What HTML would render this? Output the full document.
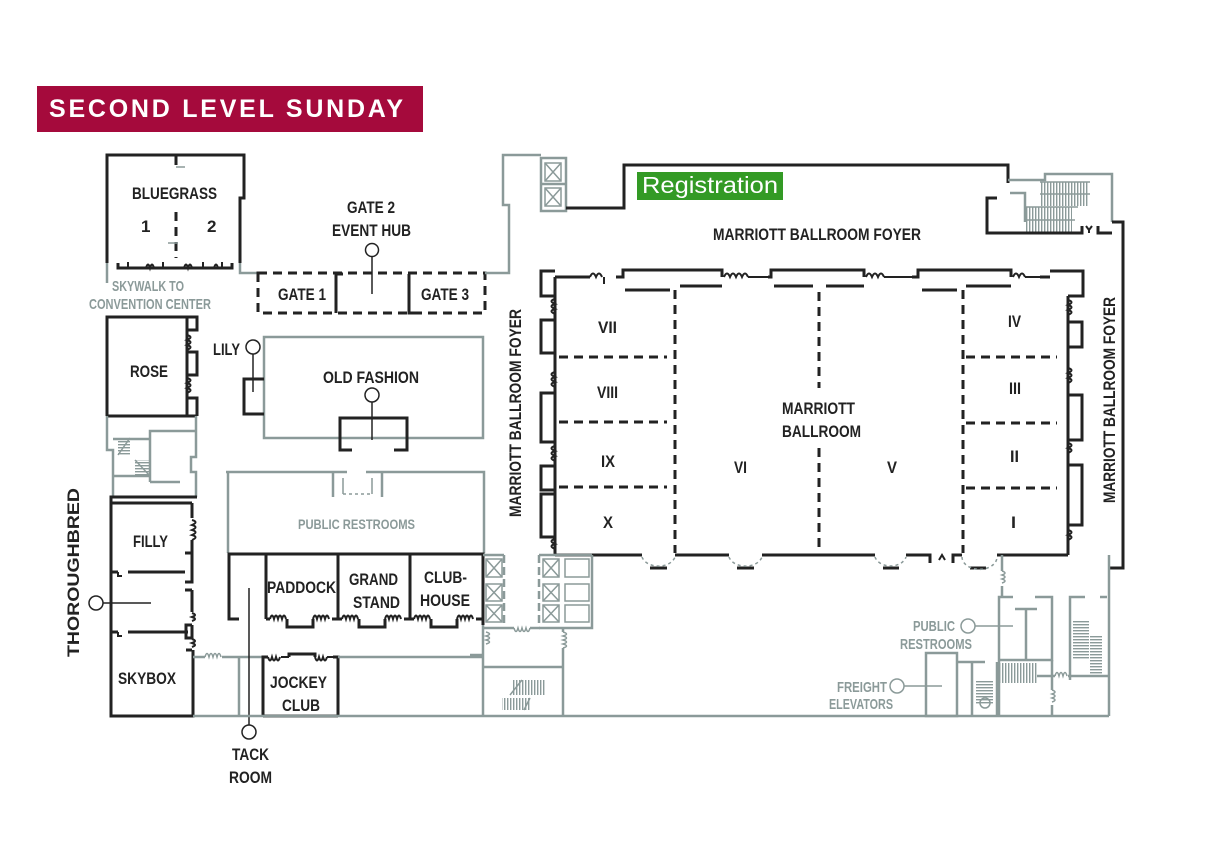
<!DOCTYPE html>
<html><head><meta charset="utf-8"><style>
html,body{margin:0;padding:0;background:#fff;}
svg{display:block;}
.k{fill:none;stroke:#222;stroke-width:3;}
.k2{fill:none;stroke:#222;stroke-width:2;}
.g{fill:none;stroke:#8b9a99;stroke-width:2.5;}
.g1{fill:none;stroke:#8b9a99;stroke-width:1.5;}
.d{fill:none;stroke:#222;stroke-width:3;stroke-dasharray:9 6;}
.thin{fill:none;stroke:#222;stroke-width:1.5;}
.t{font-family:"Liberation Sans Narrow","Liberation Sans",sans-serif;font-weight:bold;font-size:17px;fill:#222;}
.tg{font-family:"Liberation Sans Narrow","Liberation Sans",sans-serif;font-weight:bold;font-size:15px;fill:#8b9a99;}
</style></head><body>
<svg width="1215" height="848" viewBox="0 0 1215 848" xmlns="http://www.w3.org/2000/svg">
<defs>
<pattern id="hv" width="3" height="3" patternUnits="userSpaceOnUse"><rect width="1.4" height="3" fill="#8b9a99"/></pattern>
<pattern id="hh" width="3" height="3" patternUnits="userSpaceOnUse"><rect width="3" height="1.4" fill="#8b9a99"/></pattern>
</defs>
<rect width="1215" height="848" fill="#fff"/>

<!-- Title -->
<rect x="37" y="86" width="386" height="46" fill="#a50a3c"/>
<text x="49" y="117" font-family="Liberation Sans, sans-serif" font-weight="bold" font-size="25" fill="#fff" textLength="354" lengthAdjust="spacing">SECOND LEVEL SUNDAY</text>

<!-- Bluegrass -->
<path class="k" d="M107,263 V155 H244 V198 H240 V263"/>
<path class="k" d="M118,263 V268 H232 V263"/>
<path class="k2" d="M128,268 V262 M146,268 q2,-7 4,0 q2,-7 4,0 M163,268 V262 M184,268 q2,-7 4,0 q2,-7 4,0 M203,268 V262 M214,268 q2,-7 4,0 M222,268 V262"/>
<path class="d" d="M176,212 V258" stroke-dasharray="8 6"/>
<path class="k" d="M176,155 V165"/>
<path class="g1" d="M176,167 H185 M168,243 H178"/>
<text class="t" x="132" y="199" textLength="85" lengthAdjust="spacingAndGlyphs">BLUEGRASS</text>
<text class="t" x="141" y="232">1</text>
<text class="t" x="207" y="232">2</text>
<path class="g" d="M107,263 V283 M240,263 V273 H258"/>
<text class="tg" x="112" y="291" textLength="72" lengthAdjust="spacingAndGlyphs">SKYWALK TO</text>
<text class="tg" x="89" y="309" textLength="122" lengthAdjust="spacingAndGlyphs">CONVENTION CENTER</text>

<!-- Gates -->
<rect class="d" x="258" y="273" width="227" height="40"/>
<path class="k" d="M336,313 V274 H343 M409,274 V313 H416"/>
<line class="thin" x1="372" y1="257" x2="372" y2="294"/>
<circle cx="372" cy="250" r="6.5" fill="#fff" stroke="#222" stroke-width="1.5"/>
<text class="t" x="347" y="213" textLength="48" lengthAdjust="spacingAndGlyphs">GATE 2</text>
<text class="t" x="332" y="236" textLength="79" lengthAdjust="spacingAndGlyphs">EVENT HUB</text>
<text class="t" x="278" y="300" textLength="48" lengthAdjust="spacingAndGlyphs">GATE 1</text>
<text class="t" x="421" y="300" textLength="48" lengthAdjust="spacingAndGlyphs">GATE 3</text>

<!-- Foyer top outline -->
<path class="g" d="M485,273 H509 V205 H503 V155 H541"/>
<rect class="g" x="541" y="158" width="25" height="53"/>
<path class="g" d="M541,184 H566"/>
<rect class="g1" x="545" y="163" width="16" height="18"/>
<path class="g1" d="M545,163 L561,181 M561,163 L545,181"/>
<rect class="g1" x="545" y="188" width="16" height="18"/>
<path class="g1" d="M545,188 L561,206 M561,188 L545,206"/>
<path class="k" d="M566,208 H624 V165 H1008 V183"/>

<rect x="637" y="172" width="146" height="28" fill="#339a25"/>
<text x="642" y="193" font-family="Liberation Sans, sans-serif" font-size="23" fill="#fff" textLength="136" lengthAdjust="spacingAndGlyphs">Registration</text>
<text class="t" x="713" y="240" textLength="208" lengthAdjust="spacingAndGlyphs">MARRIOTT BALLROOM FOYER</text>

<!-- Top right stairs -->
<path class="g" d="M1008,180 H1045 V174 H1112 V222"/>
<path class="g" d="M1025,222 V193 H1010"/>
<rect x="1040" y="182" width="48" height="24" fill="url(#hv)"/>
<rect x="1025" y="207" width="47" height="25" fill="url(#hv)"/>
<path class="g1" d="M1040,182 H1090 M1040,194 H1090 M1025,207 H1078 M1025,220 H1075"/>
<path class="k" d="M997,198 H987 V233 H1082 V226"/>
<path class="k" d="M1098,226 V233 H1112 M1112,222 H1123 V568 H1109"/>
<path class="k2" d="M1086,226 l3,4 l3,-4 M1089,230 v3"/>

<!-- Ballroom top wall -->
<path class="k" d="M555,271 H541 V296 H555"/>
<path class="k" d="M555,277 H590 M616,277 H623 V270 H722 V277 M625,290 H670 M680,286 H722"/>
<path class="k" d="M768,277 H771 V270 H864 V277 M774,286 H813 M826,286 H864"/>
<path class="k" d="M912,277 H918 V270 H1011 V277 M922,290 H957 M966,286 H1011"/>
<path class="k" d="M1040,277 H1050 M1050,271 H1083 V296 H1068"/>
<path class="k2" d="M590,277 q3,-7 6,0 q3,-7 6,0 M604,277 V284 M724,277 q3,-7 6,0 q3,-7 6,0 q3,-7 6,0 q3,-7 6,0 M748,277 H768 M866,277 q3,-7 6,0 q3,-7 6,0 q3,-7 6,0 M884,277 H912 M1013,277 q3,-7 6,0 q3,-7 6,0 M1025,277 H1040"/>
<!-- left wall -->
<path class="k" d="M555,277 V555"/>
<path class="k" d="M555,320 H541 V353 H555 M555,393 H541 V442 H555 M555,466 H541 V490 H555 M555,494 H541 V537 H555"/>
<path class="k2" d="M555,299 q-7,2 0,5 q-7,2 0,5 q-7,2 0,5 M555,372 q-7,2 0,5 q-7,2 0,5 q-7,2 0,5 M555,446 q-7,2 0,5 q-7,2 0,5 q-7,2 0,5 M555,539 q-7,2 0,5 q-7,2 0,5"/>
<!-- right wall -->
<path class="k" d="M1068,296 V555"/>
<path class="k" d="M1068,322 H1082 V347 H1068 M1068,395 H1082 V440 H1068 M1068,465 H1082 V525 H1068"/>
<path class="k2" d="M1068,300 q7,2 0,5 q7,2 0,5 q7,2 0,5 M1068,368 q7,2 0,5 q7,2 0,5 q7,2 0,5 M1068,443 q7,2 0,5 q7,2 0,5 M1068,530 q7,2 0,5 q7,2 0,5"/>
<!-- bottom wall -->
<path class="k" d="M555,555 H642 M675,555 H729 M762,555 H875 M906,555 H930 V563 M953,563 V555 H962 M997,555 H1068"/>
<path class="k" d="M650,568 H667 M737,568 H754 M883,568 H899 M970,568 H986"/>
<path class="g1" stroke-dasharray="3 3" d="M642,557 A17,12 0 0 0 675,557 M729,557 A17,12 0 0 0 762,557 M875,557 A16,12 0 0 0 906,557 M962,557 A17,12 0 0 0 997,557"/>
<path class="k2" d="M939,560 l3,-5 l3,5"/>
<!-- dashed dividers -->
<path class="d" stroke-dasharray="10 7" d="M675,290 V553 M819,292 V388 M819,448 V553 M963,290 V553"/>
<path class="d" stroke-dasharray="9 7" d="M559,357 H667 M559,422 H667 M559,487 H667 M966,357 H1057 M966,423 H1057 M966,488 H1057"/>
<!-- ballroom labels -->
<text class="t" x="598" y="333" textLength="19" lengthAdjust="spacingAndGlyphs">VII</text>
<text class="t" x="597" y="398" textLength="21" lengthAdjust="spacingAndGlyphs">VIII</text>
<text class="t" x="601" y="467" textLength="14" lengthAdjust="spacingAndGlyphs">IX</text>
<text class="t" x="603" y="528" textLength="10" lengthAdjust="spacingAndGlyphs">X</text>
<text class="t" x="734" y="473" textLength="13" lengthAdjust="spacingAndGlyphs">VI</text>
<text class="t" x="887" y="473" textLength="10" lengthAdjust="spacingAndGlyphs">V</text>
<text class="t" x="782" y="414" textLength="73" lengthAdjust="spacingAndGlyphs">MARRIOTT</text>
<text class="t" x="782" y="437" textLength="79" lengthAdjust="spacingAndGlyphs">BALLROOM</text>
<text class="t" x="1008" y="327" textLength="13" lengthAdjust="spacingAndGlyphs">IV</text>
<text class="t" x="1009" y="394" textLength="12" lengthAdjust="spacingAndGlyphs">III</text>
<text class="t" x="1010" y="462" textLength="9" lengthAdjust="spacingAndGlyphs">II</text>
<text class="t" x="1011" y="528" textLength="5" lengthAdjust="spacingAndGlyphs">I</text>
<text class="t" transform="translate(521,517) rotate(-90)" x="0" y="0" textLength="208" lengthAdjust="spacingAndGlyphs">MARRIOTT BALLROOM FOYER</text>
<text class="t" transform="translate(1115,503) rotate(-90)" x="0" y="0" textLength="206" lengthAdjust="spacingAndGlyphs">MARRIOTT BALLROOM FOYER</text>

<!-- Rose -->
<path class="k" d="M107,416 V317 H197 V330 H187 M187,317 V416 M107,416 H197"/>
<path class="k" d="M187,352 H197 V375 H187 M187,398 H197 V416"/>
<path class="k2" d="M187,335 q7,2 0,5 q7,2 0,5 q7,2 0,5 M187,378 q7,2 0,5 q7,2 0,5 q7,2 0,5"/>
<text class="t" x="130" y="377" textLength="38" lengthAdjust="spacingAndGlyphs">ROSE</text>
<!-- stair area left -->
<path class="g" d="M107,416 V450 H113 V497 M196,416 V457 H191 V472 H196 V497"/>
<path class="g" d="M150,482 V431 H196 M150,482 H180 M113,439 H150 M113,476 H150"/>
<rect x="118" y="438" width="12" height="17" fill="url(#hh)"/>
<rect x="135" y="460" width="15" height="16" fill="url(#hh)"/>
<path class="g1" d="M118,455 L130,438 M135,460 L150,476"/>

<!-- Thoroughbred -->
<path class="k" d="M197,497 H111 V716 H193 V650 M111,503 H192"/>
<path class="k" d="M192,503 V518 M192,540 V582 H185 M185,553 H192 M192,590 V612 M185,590 H192 M192,625 V638 H186 V625 H192 M192,650 H186"/>
<path class="k2" d="M192,520 q7,2 0,5 q7,2 0,5 q7,2 0,5 q7,2 0,5 M192,613 q6,2 0,4 q6,2 0,4 M192,639 q6,2 0,4 q6,2 0,4"/>
<path class="k" d="M111,572 H118 M128,572 H185 M111,632 H118 M128,632 H188"/>
<path class="k2" d="M118,572 v4 h4 M118,632 v4 h4"/>
<text class="t" x="133" y="547" textLength="35" lengthAdjust="spacingAndGlyphs">FILLY</text>
<text class="t" x="118" y="684" textLength="58" lengthAdjust="spacingAndGlyphs">SKYBOX</text>
<text class="t" transform="translate(79,657) rotate(-90)" x="0" y="0" textLength="169" lengthAdjust="spacingAndGlyphs">THOROUGHBRED</text>
<line class="thin" x1="103" y1="603" x2="151" y2="603"/>
<circle cx="96" cy="603" r="7" fill="#fff" stroke="#222" stroke-width="1.5"/>
<path class="g" d="M193,657 H205 M222,657 H263 M239,657 V716"/>
<path class="g1" d="M205,657 q2,-7 4,0 q2,-7 4,0 q2,-7 4,0 q2,-7 4,0"/>

<!-- Lily / Old Fashion -->
<rect class="g" x="264" y="337" width="219" height="101"/>
<path class="k" d="M264,379 H244 V414 H264"/>
<line class="thin" x1="253" y1="354" x2="253" y2="392"/>
<circle cx="253" cy="347" r="7" fill="#fff" stroke="#222" stroke-width="1.5"/>
<text class="t" x="213" y="355" textLength="27" lengthAdjust="spacingAndGlyphs">LILY</text>
<path class="k" d="M352,450 H340 V418 H407 V450 H394"/>
<line class="thin" x1="372" y1="402" x2="372" y2="440"/>
<circle cx="372" cy="395" r="7" fill="#fff" stroke="#222" stroke-width="1.5"/>
<text class="t" x="323" y="383" textLength="96" lengthAdjust="spacingAndGlyphs">OLD FASHION</text>

<!-- Public restrooms left -->
<path class="g" d="M226,472 H347 M366,472 H484 V553 M228,472 V553 M333,472 V497 M382,472 V497"/>
<path class="g1" d="M343,478 V494 M372,478 V494"/>
<path class="g1" stroke-dasharray="3 3" d="M343,494 H372"/>
<text x="298" y="529" font-family="Liberation Sans Narrow, Liberation Sans, sans-serif" font-weight="bold" font-size="14" fill="#8b9a99" textLength="117" lengthAdjust="spacingAndGlyphs">PUBLIC RESTROOMS</text>

<!-- Room row -->
<path class="k" d="M239,619 H229 V554 H483 V625 M266,554 V619 M338,554 V619 M410,554 V619"/>
<path class="k" d="M266,619 H270 M287,619 V627 H313 V619 M332,619 H338 M338,619 H342 M359,619 V627 H385 V619 M404,619 H410 M410,619 H414 M431,619 V627 H457 V619 M476,619 H483"/>
<path class="k2" d="M270,619 q2,-7 4,0 q2,-7 4,0 q2,-7 4,0 q2,-7 4,0 M313,619 q2,-7 4,0 q2,-7 4,0 q2,-7 4,0 q2,-7 4,0 M342,619 q2,-7 4,0 q2,-7 4,0 q2,-7 4,0 q2,-7 4,0 M385,619 q2,-7 4,0 q2,-7 4,0 q2,-7 4,0 q2,-7 4,0 M414,619 q2,-7 4,0 q2,-7 4,0 q2,-7 4,0 q2,-7 4,0 M457,619 q2,-7 4,0 q2,-7 4,0 q2,-7 4,0 q2,-7 4,0"/>
<text class="t" x="267" y="593" textLength="69" lengthAdjust="spacingAndGlyphs">PADDOCK</text>
<text class="t" x="349" y="585" textLength="49" lengthAdjust="spacingAndGlyphs">GRAND</text>
<text class="t" x="353" y="608" textLength="47" lengthAdjust="spacingAndGlyphs">STAND</text>
<text class="t" x="424" y="583" textLength="43" lengthAdjust="spacingAndGlyphs">CLUB-</text>
<text class="t" x="420" y="606" textLength="50" lengthAdjust="spacingAndGlyphs">HOUSE</text>
<line class="thin" x1="249" y1="588" x2="249" y2="725"/>
<circle cx="249" cy="732" r="7" fill="#fff" stroke="#222" stroke-width="1.5"/>
<text class="t" x="232" y="760" textLength="37" lengthAdjust="spacingAndGlyphs">TACK</text>
<text class="t" x="229" y="783" textLength="43" lengthAdjust="spacingAndGlyphs">ROOM</text>

<!-- Jockey club -->
<path class="k" d="M263,716 V657 H268 M289,657 V654 H315 V657 M333,657 H338 V716 M263,716 H338"/>
<path class="k2" d="M268,657 q2,7 4,0 q2,7 4,0 q2,7 4,0 M281,657 H289 M315,657 q2,7 4,0 q2,7 4,0 q2,7 4,0 M327,657 H333"/>
<text class="t" x="270" y="688" textLength="57" lengthAdjust="spacingAndGlyphs">JOCKEY</text>
<text class="t" x="282" y="711" textLength="38" lengthAdjust="spacingAndGlyphs">CLUB</text>

<!-- Gray lower structure -->
<path class="g" d="M338,657 H482 M193,716 H1109"/>
<path class="g" d="M483,625 V716 M470,655 H482"/>
<!-- elevator banks -->
<path class="g" d="M483,555 H504 M592,555 V628 H539 M539,555 H592"/>
<path class="g" stroke-dasharray="8 4" d="M504,555 V628 M539,555 V628"/>
<path class="g" d="M483,628 H514 M530,628 H540"/>
<path class="g1" d="M514,628 q2,7 4,0 q2,7 4,0 q2,7 4,0 q2,7 4,0"/>
<g class="g1">
<rect x="486" y="559" width="16" height="18"/><path d="M486,559 L502,577 M502,559 L486,577"/>
<rect x="486" y="584" width="16" height="17"/><path d="M486,584 L502,601 M502,584 L486,601"/>
<rect x="486" y="605" width="16" height="17"/><path d="M486,605 L502,622 M502,605 L486,622"/>
<rect x="543" y="559" width="16" height="18"/><path d="M543,559 L559,577 M559,559 L543,577"/>
<rect x="543" y="584" width="16" height="17"/><path d="M543,584 L559,601 M559,584 L543,601"/>
<rect x="543" y="605" width="16" height="17"/><path d="M543,605 L559,622 M559,605 L543,622"/>
<rect x="565" y="559" width="24" height="18"/>
<rect x="565" y="584" width="24" height="17"/>
<rect x="565" y="605" width="24" height="17"/>
</g>
<path class="g" d="M563,628 V632 M563,648 V716 M483,667 H563"/>
<path class="g1" d="M563,632 q7,2 0,4 q7,2 0,4 q7,2 0,4 q7,2 0,4 M486,632 q7,2 0,4 q7,2 0,4 q7,2 0,4"/>
<rect x="513" y="680" width="32" height="15" fill="url(#hv)"/>
<rect x="502" y="698" width="28" height="12" fill="url(#hv)"/>
<path class="g1" d="M510,695 L522,680 M530,698 L524,710"/>

<!-- Right lower gray -->
<path class="g" d="M1002,555 V571 M1002,586 V597"/>
<path class="g1" d="M1002,571 q6,2 0,4 q6,2 0,4 q6,2 0,4"/>
<path class="g" d="M999,716 V597 H1013 M1035,597 H1052 V660 H999 M1015,609 H1037 M1026,609 V660"/>
<rect x="1000" y="663" width="37" height="20" fill="url(#hv)"/>
<path class="g" d="M1037,676 H1055 M1068,676 H1109 M1052,660 V690 M1052,705 V716"/>
<path class="g1" d="M1055,676 q2,-7 4,0 q2,-7 4,0 q2,-7 4,0 M1052,690 q6,2 0,4 q6,2 0,4 q6,2 0,4"/>
<path class="g" d="M1085,597 H1070 V680 M1100,597 H1107"/>
<rect x="1073" y="620" width="16" height="40" fill="url(#hh)"/>
<rect x="1090" y="635" width="12" height="40" fill="url(#hh)"/>
<path class="g" d="M1109,555 V716"/>
<rect class="g" x="926" y="653" width="31" height="63"/>
<path class="g" d="M957,662 H972 V716 M997,662 V716 M972,662 H985"/>
<rect x="976" y="680" width="17" height="24" fill="url(#hh)"/>
<circle cx="985" cy="703" r="5" fill="none" stroke="#8b9a99" stroke-width="1.5"/>
<text class="tg" x="913" y="631" textLength="42" lengthAdjust="spacingAndGlyphs">PUBLIC</text>
<text class="tg" x="900" y="649" textLength="72" lengthAdjust="spacingAndGlyphs">RESTROOMS</text>
<line class="g1" x1="975" y1="626" x2="1013" y2="626"/>
<circle cx="968" cy="626" r="7" fill="#fff" stroke="#8b9a99" stroke-width="1.5"/>
<text class="tg" x="837" y="692" textLength="50" lengthAdjust="spacingAndGlyphs">FREIGHT</text>
<text class="tg" x="829" y="709" textLength="64" lengthAdjust="spacingAndGlyphs">ELEVATORS</text>
<line class="g1" x1="904" y1="686" x2="942" y2="686"/>
<circle cx="897" cy="686" r="7" fill="#fff" stroke="#8b9a99" stroke-width="1.5"/>
</svg>
</body></html>
